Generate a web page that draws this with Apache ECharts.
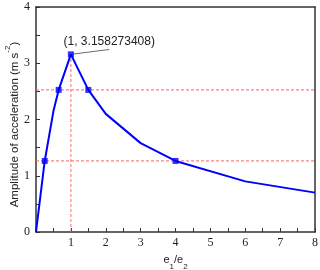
<!DOCTYPE html>
<html>
<head>
<meta charset="utf-8">
<script src="https://cdn.jsdelivr.net/npm/echarts@6/dist/echarts.min.js"></script>
<style>html,body{margin:0;padding:0;background:#fff}#c{width:320px;height:270px}</style>
</head>
<body>
<div id="c"></div>
<script>
// curve data
var ratioX = [0, 0.25, 0.5, 0.65, 1, 1.5, 2, 3, 4, 6, 8];
var accelY = [0, 1.263, 2.15, 2.526, 3.158273408, 2.526, 2.10, 1.58, 1.263, 0.90, 0.70];
// marked points
var markX = [0.25, 0.65, 1, 1.5, 4];
var markY = [1.263, 2.526, 3.158273408, 2.526, 1.263];
// reference levels
var peakX = 1;
var peakY = 3.158273408;
var levelHigh = 2.526;
var levelLow = 1.263;
var xMin = 0, xMax = 8;
var annotText = '(1, 3.158273408)';
var annotAnchor = [2.1, 3.245];
var xTicks = [1, 2, 3, 4, 5, 6, 7, 8];
var yTicks = [0, 1, 2, 3, 4];

var chart = echarts.init(document.getElementById('c'));
var axisColor = '#333';
var tickFont = {fontFamily: 'Liberation Serif', fontSize: 12, color: '#222'};
var dashStyle = {color: '#ff6b6b', type: [3, 2], width: 1.2, opacity: 0.85};

var curve = ratioX.map(function (x, i) { return [x, accelY[i]]; });
var marks = markX.map(function (x, i) { return [x, markY[i]]; });

function dashSeries(data) {
  return {type: 'line', data: data, showSymbol: false, symbol: 'none', silent: true,
    lineStyle: dashStyle, z: 2};
}

chart.setOption({
  animation: false,
  grid: {left: 36, right: 5, top: 7, bottom: 38, containLabel: false, outerBoundsMode: 'none'},
  xAxis: [{
    type: 'value', min: xMin, max: xMax, interval: 1,
    axisLine: {lineStyle: {color: axisColor, width: 1.5}},
    axisTick: {inside: true, length: 4, lineStyle: {color: axisColor}},
    minorTick: {show: true, splitNumber: 2, length: 4, lineStyle: {color: axisColor}},
    splitLine: {show: false},
    axisLabel: Object.assign({margin: 5, formatter: function (v) { return xTicks.indexOf(v) >= 0 ? String(v) : ''; }}, tickFont),
    name: '{a|e}{s|1}{a|/e}{s|2}',
    nameLocation: 'middle', nameGap: 22, nameMoveOverlap: false,
    nameTextStyle: {rich: {
      a: {fontFamily: 'Liberation Sans', fontSize: 11, color: '#222'},
      s: {fontFamily: 'Liberation Sans', fontSize: 8, color: '#222', verticalAlign: 'bottom', padding: [0, 0, -6, 0]}
    }}
  }, {
    type: 'value', min: xMin, max: xMax, position: 'top',
    axisLine: {show: true, onZero: false, lineStyle: {color: axisColor, width: 1.5}},
    axisTick: {show: false}, axisLabel: {show: false}, splitLine: {show: false}
  }],
  yAxis: [{
    type: 'value', min: 0, max: 4, interval: 1,
    axisLine: {show: true, lineStyle: {color: axisColor, width: 1.5}},
    axisTick: {show: true, inside: true, length: 4, lineStyle: {color: axisColor}},
    minorTick: {show: true, splitNumber: 2, length: 4, lineStyle: {color: axisColor}},
    splitLine: {show: false},
    axisLabel: Object.assign({margin: 6, formatter: function (v) { return yTicks.indexOf(v) >= 0 ? String(v) : ''; }}, tickFont),
    name: '{a|Amplitude of acceleration (m s}{s|-2}{a|)}{g|}',
    nameLocation: 'middle', nameRotate: 90, nameGap: 15, nameMoveOverlap: false,
    nameTextStyle: {rich: {
      a: {fontFamily: 'Liberation Sans', fontSize: 11.5, color: '#222'},
      s: {fontFamily: 'Liberation Sans', fontSize: 8, color: '#222', verticalAlign: 'top', padding: [-5, 0, 0, 0]},
      g: {width: 10}
    }}
  }, {
    type: 'value', min: 0, max: 4, position: 'right',
    axisLine: {show: true, onZero: false, lineStyle: {color: axisColor, width: 1.5}},
    axisTick: {show: false}, axisLabel: {show: false}, splitLine: {show: false}
  }],
  series: [
    dashSeries([[xMin, levelHigh], [xMax, levelHigh]]),
    dashSeries([[xMin, levelLow], [xMax, levelLow]]),
    dashSeries([[peakX, 0], [peakX, peakY]]),
    {
      type: 'line', data: [[peakX, peakY], annotAnchor], showSymbol: false, symbol: 'none', silent: true,
      lineStyle: {color: '#444', width: 0.8}, z: 2
    },
    {
      type: 'line', data: curve, showSymbol: false, symbol: 'none', silent: true,
      lineStyle: {color: '#0000ff', width: 2},
      z: 3,
      markPoint: {
        silent: true, symbol: 'circle', symbolSize: 0,
        label: {show: true, position: 'top', distance: 2, formatter: annotText,
          fontFamily: 'Liberation Sans', fontSize: 12, color: '#222'},
        data: [{coord: annotAnchor}]
      }
    }, {
      type: 'scatter', data: marks, symbol: 'rect', symbolSize: 6, silent: true,
      itemStyle: {color: '#0000ff', borderWidth: 0}, z: 4
    }
  ]
});
</script>
</body>
</html>
